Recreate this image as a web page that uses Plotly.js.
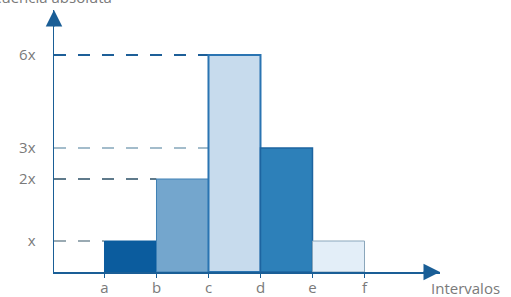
<!DOCTYPE html>
<html>
<head>
<meta charset="utf-8">
<script src="https://cdn.plot.ly/plotly-3.0.1.min.js"></script>
<style>html,body{margin:0;padding:0;background:#fff;}#chart{width:511px;height:297px;}</style>
</head>
<body>
<div id="chart"></div>
<script>
// Interval boundaries (x-axis tick labels)
const boundaries = ['a', 'b', 'c', 'd', 'e', 'f'];
// Absolute frequency of each interval, as multiples of x
const freqMultiples = [1, 2, 6, 3, 1];
// Drawn (schematic) heights of the bars
const barHeights = [1, 3, 7, 4, 1];
// y-axis tick positions and labels
const yTickVals = [1, 3, 4, 7];
const yTickText = ['x', '2x', '3x', '6x'];
const barColors = ['#0b5c9e', '#74a6cd', '#c7dbed', '#2d80b9', '#e3eef8'];
const barLineColors = ['#0b5c9e', '#3f80b5', '#2a74b2', '#1d64a0', '#8aa6bb'];
const barLineWidths = [1, 1, 2, 1.5, 1];

const centers = barHeights.map((_, i) => i + 0.5);
const bndIdx = boundaries.map((_, i) => i);

const yAxisX = -0.971;
const xMax = 6.452;
const yMax = 8.452;

// dashed guide lines from the y-axis to the left edge of the bar with that height
const guideColors = {1: '#9aaab3', 3: '#5f7a8b', 4: '#a3bccb', 7: '#1d5f98'};
const shapes = yTickVals.map(v => {
  const idx = barHeights.indexOf(v);
  return {
    type: 'line', layer: 'below', xref: 'x', yref: 'y',
    x0: yAxisX, x1: idx, y0: v, y1: v,
    line: {color: guideColors[v], width: 2, dash: '12px,12px'}
  };
});

const trace = {
  type: 'bar',
  x: centers,
  y: barHeights,
  width: barHeights.map(() => 1),
  customdata: freqMultiples,
  marker: {color: barColors, line: {color: barLineColors, width: barLineWidths}},
  hoverinfo: 'skip'
};

const font = {family: 'Open Sans, sans-serif', size: 15, color: '#7a7a7a'};
const axisColor = '#1a5e96';

const layout = {
  width: 511, height: 297,
  margin: {l: 54, r: 71, t: 10, b: 25, pad: 0},
  paper_bgcolor: '#fff', plot_bgcolor: '#fff',
  showlegend: false,
  bargap: 0,
  font: font,
  xaxis: {
    range: [yAxisX, xMax],
    tickvals: bndIdx, ticktext: boundaries,
    showline: true, linecolor: axisColor, linewidth: 1.5,
    ticks: 'outside', ticklen: 4, tickwidth: 1.5, tickcolor: axisColor,
    showgrid: false, zeroline: false,
    tickfont: font, ticklabelstandoff: -3
  },
  yaxis: {
    range: [0, yMax],
    tickvals: yTickVals, ticktext: yTickText,
    showline: true, linecolor: axisColor, linewidth: 1.5,
    ticks: '', showgrid: false, zeroline: false,
    tickfont: font, ticklabelstandoff: 14
  },
  shapes: shapes,
  annotations: [
    {xref: 'paper', yref: 'paper', x: 0, y: 1, ax: 0, ay: 18, text: '',
     showarrow: true, arrowhead: 2, arrowsize: 2.2, arrowwidth: 1.5, arrowcolor: axisColor},
    {xref: 'paper', yref: 'paper', x: 1, y: 0, ax: -18, ay: 0, text: '',
     showarrow: true, arrowhead: 2, arrowsize: 2.2, arrowwidth: 1.5, arrowcolor: axisColor},
    {xref: 'paper', yref: 'paper', x: (429 - 54) / 386, y: (272 - 288) / 262,
     xanchor: 'left', yanchor: 'middle', text: 'Intervalos', showarrow: false, font: font},
    {xref: 'paper', yref: 'paper', x: (114 - 54) / 386, y: (272 + 3) / 262,
     xanchor: 'right', yanchor: 'middle', text: 'Frecuencia absoluta', showarrow: false, font: font}
  ]
};

Plotly.newPlot('chart', [trace], layout, {displayModeBar: false, staticPlot: true});
</script>
</body>
</html>
